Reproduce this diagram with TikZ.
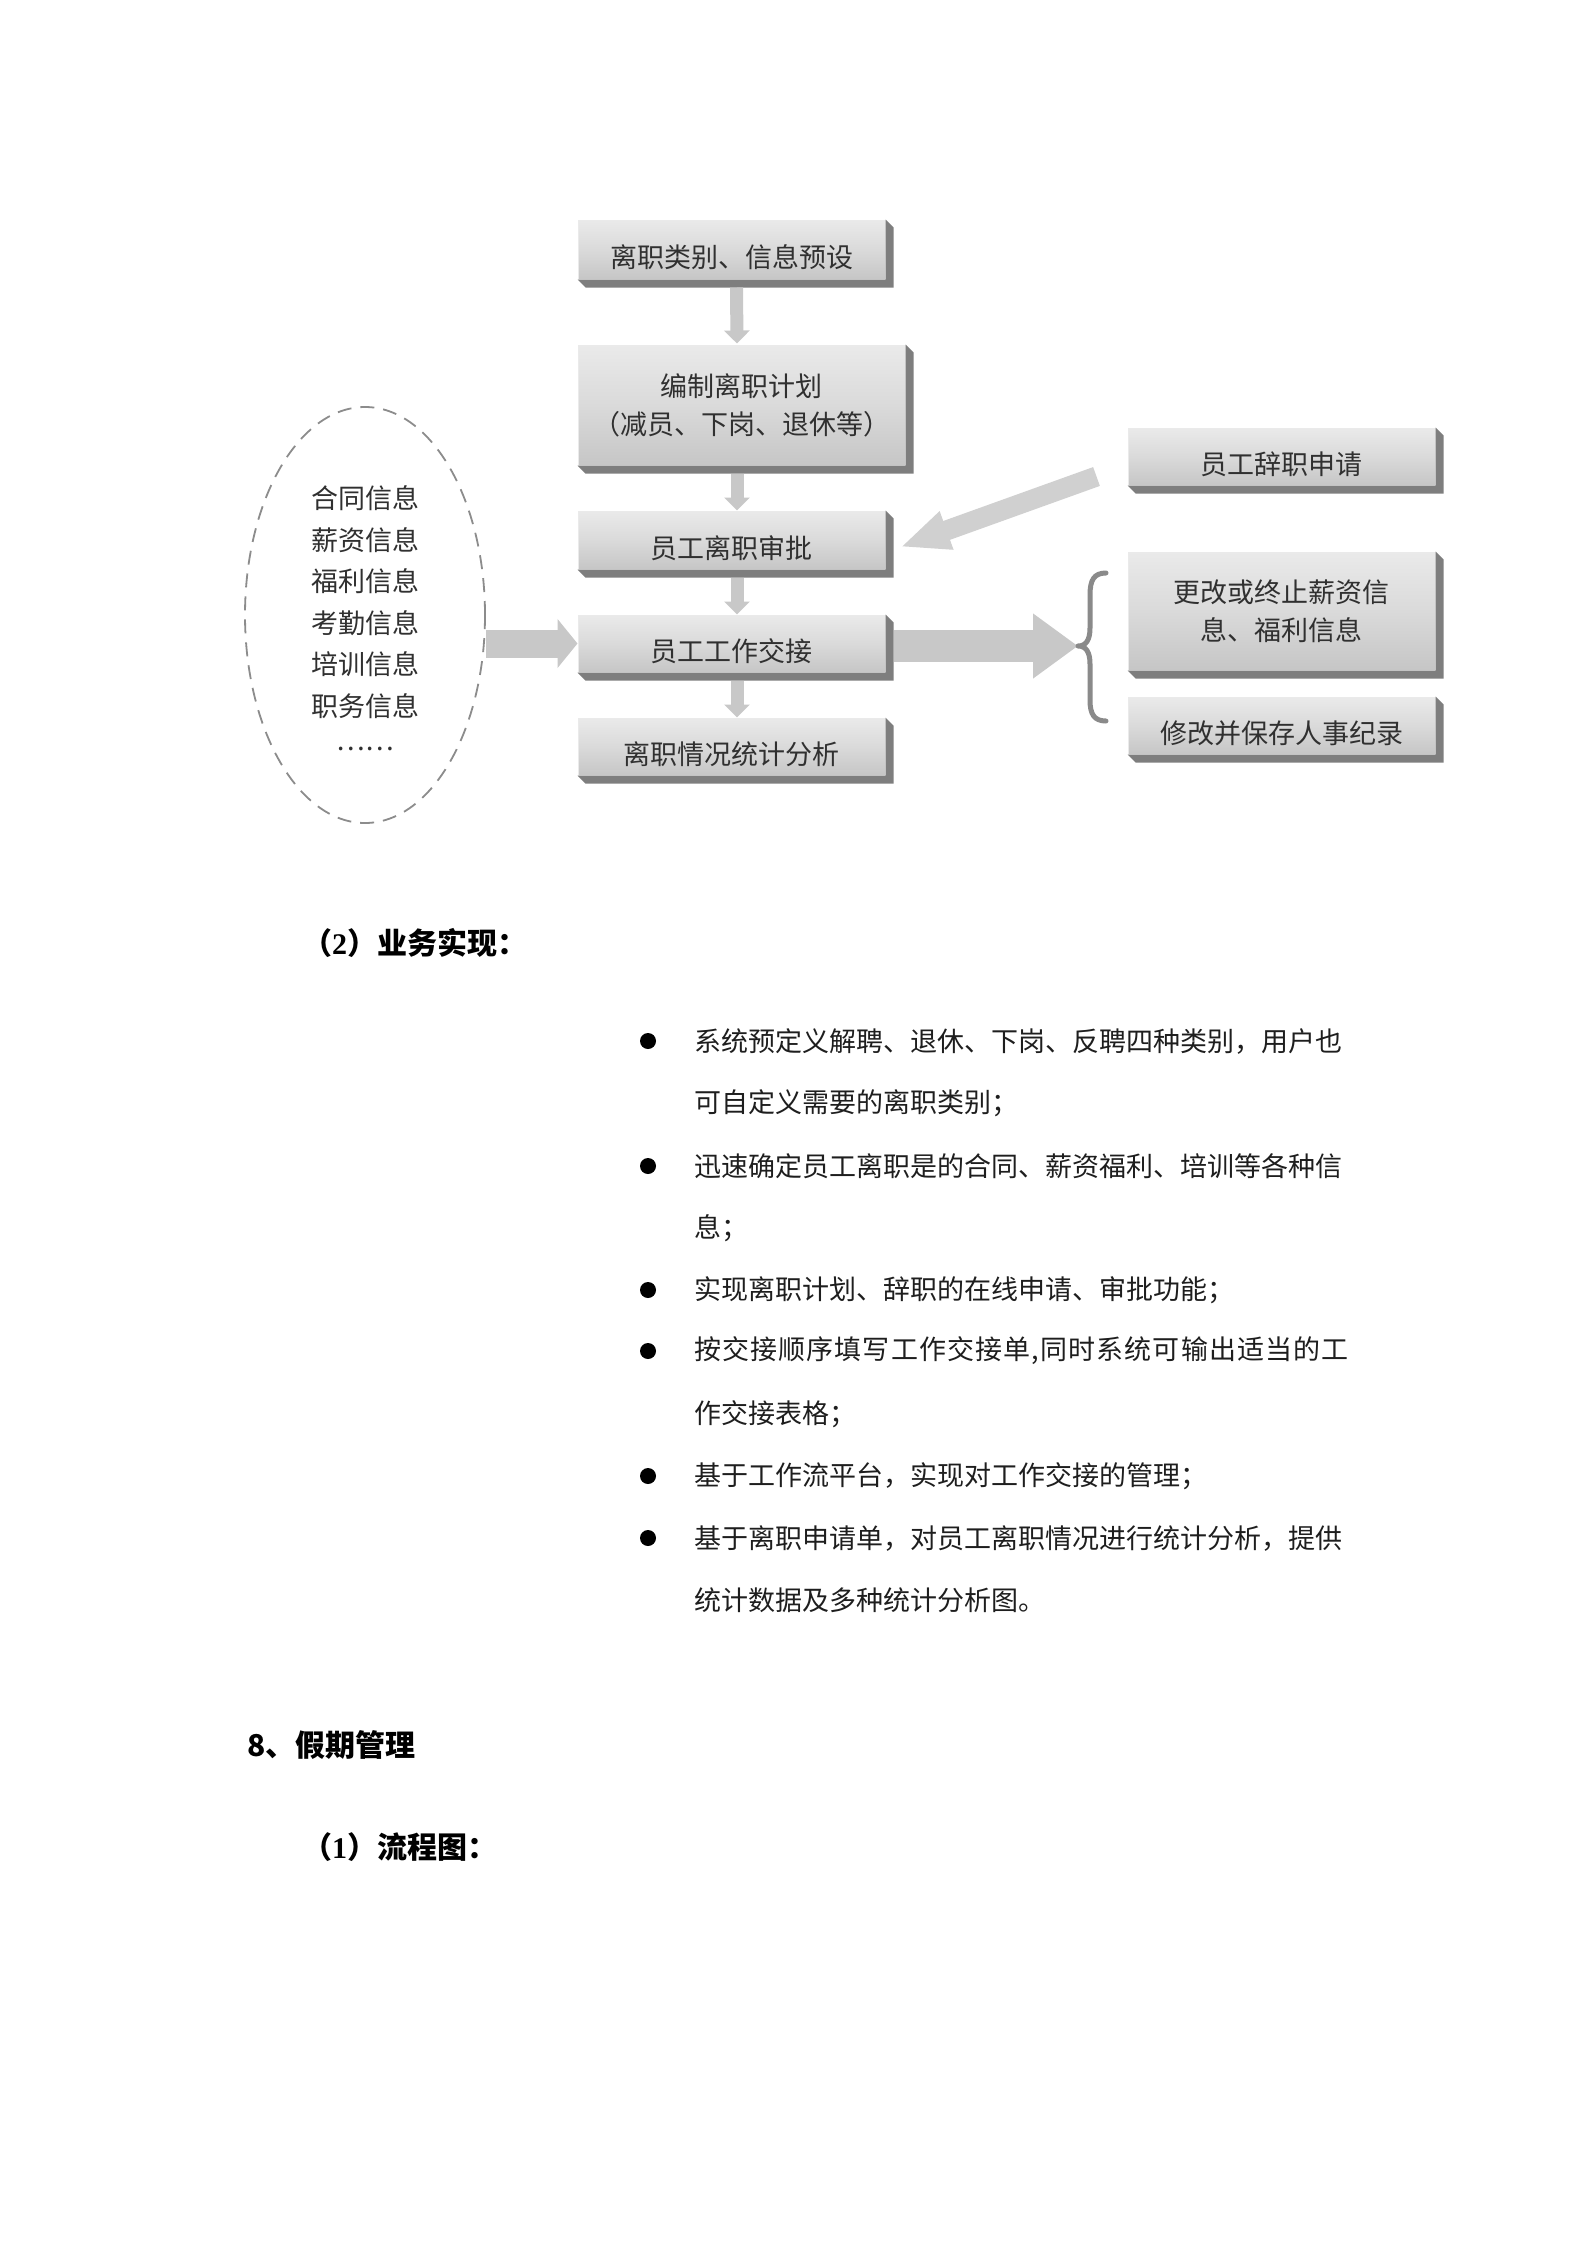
\documentclass[tikz,border=0pt]{standalone}
\usepackage{fontspec}
\setmainfont{Noto Sans CJK SC}
\newfontfamily\lat{Liberation Serif}
\usetikzlibrary{arrows.meta,calc,shapes.geometric}
\definecolor{boxtop}{HTML}{EAEAEA}
\definecolor{boxmid}{HTML}{DADADA}
\definecolor{boxbot}{HTML}{C6C6C6}
\definecolor{extr}{HTML}{7E7E7E}
\definecolor{arrowgray}{HTML}{C8C8C8}
\definecolor{diaggray}{HTML}{D0D0D0}
\definecolor{bracegray}{HTML}{8A8A8A}
\definecolor{ellgray}{HTML}{8C8C8C}
\definecolor{txtgray}{HTML}{303030}
\definecolor{bodytxt}{HTML}{1E1E1E}
\newcommand\lowtxt[2][8pt]{\raisebox{-#1}[\height][\depth]{#2}}
\begin{document}
\begin{tikzpicture}[x=1pt,y=-1pt,
  bevelbox/.style={rectangle, inner sep=0pt, top color=boxtop, bottom color=boxbot, middle color=boxmid,
    draw=boxtop, line width=1pt, font=\fontsize{27}{38}\selectfont, text=txtgray, align=center},
  extrusion/.style={fill=extr},
  flowarrow/.style={draw=arrowgray, line width=13pt, -{Triangle[width=25pt,length=13pt]}},
  sidearrow/.style={draw=arrowgray, line width=28pt, -{Triangle[width=48pt,length=20pt]}},
  bigarrow/.style={draw=arrowgray, line width=32pt, -{Triangle[width=62pt,length=45pt]}},
  diagarrow/.style={draw=diaggray, line width=20pt, -{Triangle[width=37pt,length=49pt]}},
  bracestyle/.style={draw=bracegray, line width=5pt, line cap=round, line join=round},
  bodyline/.style={anchor=west, inner sep=0pt, font=\fontsize{27}{27}\selectfont, text=bodytxt},
  bulletdot/.style={circle, fill=black, inner sep=0pt, minimum size=16pt},
  heading/.style={anchor=west, inner sep=0pt, font=\fontsize{30}{30}\selectfont\bfseries, text=black}
]
\useasboundingbox[fill=white] (0,0) rectangle (1594,2252);

% main column boxes
\node[bevelbox, minimum width=307pt, minimum height=59pt] (b1) at (731.5,249.5) {\lowtxt{离职类别、信息预设}};
\node[bevelbox, minimum width=327pt, minimum height=120pt] (b2) at (741.5,405) {编制离职计划\\（减员、下岗、退休等）};
\node[bevelbox, minimum width=307pt, minimum height=58pt] (b3) at (731.5,540) {\lowtxt{员工离职审批}};
\node[bevelbox, minimum width=307pt, minimum height=57pt] (b4) at (731.5,643.5) {\lowtxt{员工工作交接}};
\node[bevelbox, minimum width=307pt, minimum height=57pt] (b5) at (731.5,746.5) {\lowtxt{离职情况统计分析}};

% right column boxes
\node[bevelbox, minimum width=307pt, minimum height=57pt] (r1) at (1281.5,456.5) {\lowtxt{员工辞职申请}};
\node[bevelbox, minimum width=307pt, minimum height=118pt] (r2) at (1281.5,611) {更改或终止薪资信\\息、福利信息};
\node[bevelbox, minimum width=307pt, minimum height=57pt] (r3) at (1281.5,725.5) {\lowtxt{修改并保存人事纪录}};

\foreach \n in {b1,b2,b3,b4,b5,r1,r2,r3}
  \fill[extrusion] (\n.north east) -- ++(8,8) -- ($(\n.south east)+(8,8)$) -- ($(\n.south west)+(8,8)$)
    -- (\n.south west) -- (\n.south east) -- cycle;

% ellipse of information
\node[ellipse, draw=ellgray, dash pattern=on 14pt off 9pt, line width=1.8pt, minimum width=240pt,
  minimum height=416pt, inner sep=0pt, align=center, font=\fontsize{27}{41.5}\selectfont, text=txtgray]
  (ell) at (365,615) {\lowtxt[7pt]{合同信息}\\\lowtxt[7pt]{薪资信息}\\\lowtxt[7pt]{福利信息}\\\lowtxt[7pt]{考勤信息}\\\lowtxt[7pt]{培训信息}\\\lowtxt[7pt]{职务信息}\\……};

% vertical arrows
\draw[flowarrow] ($(b1.south)+(5,8)$) -- ($(b2.north)+(-4.5,-1)$);
\draw[flowarrow] ($(b2.south)+(-4.5,8)$) -- ($(b3.north)+(5.5,0)$);
\draw[flowarrow] ($(b3.south)+(5.5,8)$) -- ($(b4.north)+(5.5,0)$);
\draw[flowarrow] ($(b4.south)+(5.5,8)$) -- ($(b5.north)+(5.5,0)$);

% ellipse to hand-over
\draw[sidearrow] (ell.east |- b4.west) -- (b4.west);

% resignation request to approval
\draw[diagarrow] ($(r1.west)+(-31,20)$) -- ($(b3.east)+(15,7)$);

% brace and big arrow
\coordinate (bracetip) at (1078,646);
\draw[bigarrow] ($(b4.east)+(8,2.5)$) -- (bracetip);
\draw[bracestyle] (1106,573) .. controls (1094,573) and (1090,580) .. (1090,595) -- (1090,628)
  .. controls (1090,640) and (1086,646) .. (bracetip)
  .. controls (1086,646) and (1090,652) .. (1090,664) -- (1090,700)
  .. controls (1090,714) and (1094,721) .. (1106,721);

% headings
\node[heading] (h2) at (302,943) {（{\lat 2}）业务实现：};
\node[heading] (h8) at (247,1745) {8、假期管理};
\node[heading] (h1) at (302,1847) {（{\lat 1}）流程图：};

% bullet items
\foreach \y/\nm in {1041/d1,1166/d2,1290/d3,1351/d4,1476/d5,1538/d6}
  \node[bulletdot] (\nm) at (648,\y) {};

\node[bodyline] (t1a) at (694,1041) {系统预定义解聘、退休、下岗、反聘四种类别，用户也};
\node[bodyline] (t1b) at (694,1103) {可自定义需要的离职类别；};
\node[bodyline] (t2a) at (694,1166) {迅速确定员工离职是的合同、薪资福利、培训等各种信};
\node[bodyline] (t2b) at (694,1228) {息；};
\node[bodyline] (t3a) at (694,1290) {实现离职计划、辞职的在线申请、审批功能；};
\node[bodyline] (t4a) at (694,1351) {\addfontfeature{LetterSpace=4.2}按交接顺序填写工作交接单,同时系统可输出适当的工};
\node[bodyline] (t4b) at (694,1414) {作交接表格；};
\node[bodyline] (t5a) at (694,1476) {基于工作流平台，实现对工作交接的管理；};
\node[bodyline] (t6a) at (694,1538) {基于离职申请单，对员工离职情况进行统计分析，提供};
\node[bodyline] (t6b) at (694,1600) {统计数据及多种统计分析图。};
\end{tikzpicture}
\end{document}
